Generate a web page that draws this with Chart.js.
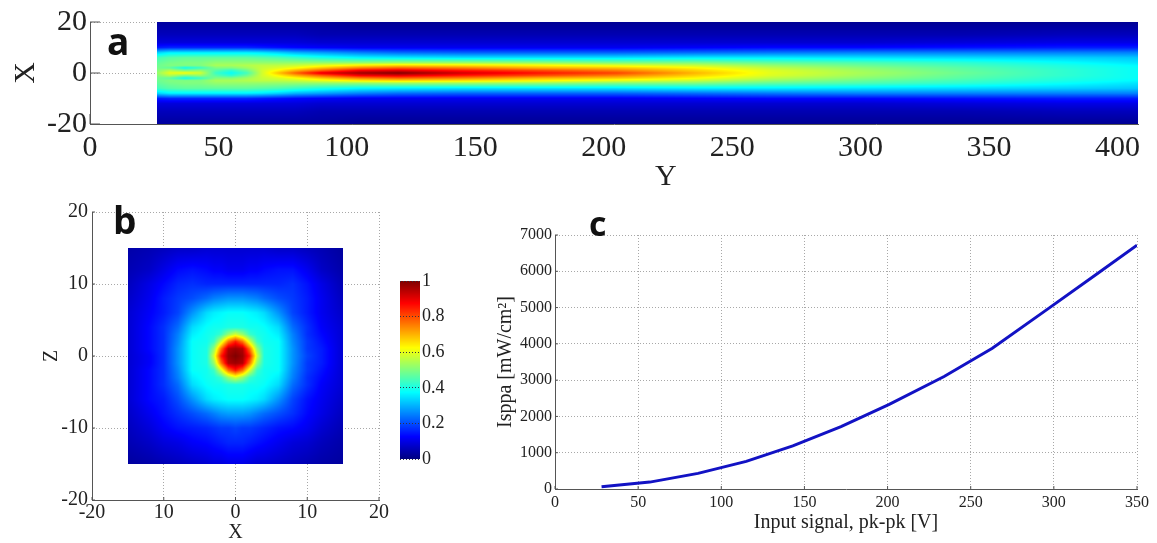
<!DOCTYPE html>
<html>
<head>
<meta charset="utf-8">
<script src="https://cdn.jsdelivr.net/npm/chart.js@4"></script>
<style>
html, body { margin: 0; background: #fff; overflow: hidden; }
canvas { position: absolute; }
.tag { position: absolute; font: 700 37px/1 'Open Sans', sans-serif; color: #111; }
.name { position: absolute; font: 30px/1 'Liberation Serif', serif; color: #222; }
</style>
</head>
<body>
<canvas id="panelA" width="1157" height="195" style="left:0px;top:0px"></canvas>
<canvas id="panelB" width="400" height="350" style="left:0px;top:195px"></canvas>
<canvas id="colorBar" width="60" height="210" style="left:395px;top:265px"></canvas>
<canvas id="panelC" width="707" height="335" style="left:450px;top:200px"></canvas>
<div class="tag" style="left:107px;top:22px">a</div>
<div class="tag" style="left:113px;top:201px">b</div>
<div class="tag" style="left:589px;top:206px;font-size:34px">c</div>
<div class="name" style="left:655px;top:160px">Y</div>
<script>
// Panel a: percent of peak, one line per Y column, top (X=20) to bottom (X=-20)
const aY = [26, 31, 37, 43, 49, 55, 61, 67, 73, 80, 90, 105, 120, 145, 175, 205, 235, 265, 300, 340, 380, 408];
const aX = [20, 15, 12, 10, 8, 6, 4, 3, 2, 1, 0, -1, -2, -3, -4, -6, -8, -10, -12, -15, -20];
const aValues = [
    [3, 6, 9, 15, 33, 44, 47, 48, 49, 50, 52, 50, 49, 48, 47, 44, 33, 15, 9, 6, 3],
    [3, 6, 9, 16, 36, 46, 49, 50, 47, 55, 60, 55, 47, 50, 49, 46, 36, 16, 9, 6, 3],
    [3, 6, 9, 16, 36, 47, 50, 50, 39, 50, 62, 50, 39, 50, 50, 47, 36, 16, 9, 6, 3],
    [3, 6, 9, 16, 36, 47, 50, 50, 43, 52, 58, 52, 43, 50, 50, 47, 36, 16, 9, 6, 3],
    [3, 6, 9, 16, 36, 47, 52, 54, 50, 46, 43, 46, 50, 54, 52, 47, 36, 16, 9, 6, 3],
    [3, 6, 9, 16, 36, 47, 52, 54, 50, 42, 38, 42, 50, 54, 52, 47, 36, 16, 9, 6, 3],
    [3, 6, 9, 16, 36, 47, 52, 55, 53, 48, 44, 48, 53, 55, 52, 47, 36, 16, 9, 6, 3],
    [3, 6, 9, 15, 35, 46, 52, 56, 57, 58, 58, 58, 57, 56, 52, 46, 35, 15, 9, 6, 3],
    [3, 6, 9, 14, 33, 45, 52, 56, 59, 63, 68, 63, 59, 56, 52, 45, 33, 14, 9, 6, 3],
    [3, 6, 9, 13, 30, 43, 52, 57, 62, 70, 78, 70, 62, 57, 52, 43, 30, 13, 9, 6, 3],
    [3, 5, 8, 12, 28, 40, 52, 60, 68, 78, 90, 78, 68, 60, 52, 40, 28, 12, 8, 5, 3],
    [2, 5, 8, 11, 25, 37, 52, 64, 75, 88, 97, 88, 75, 64, 52, 37, 25, 11, 8, 5, 2],
    [2, 5, 8, 11, 23, 36, 53, 66, 78, 90, 100, 90, 78, 66, 53, 36, 23, 11, 8, 5, 2],
    [2, 5, 8, 11, 22, 35, 53, 65, 75, 85, 92, 85, 75, 65, 53, 35, 22, 11, 8, 5, 2],
    [2, 5, 8, 11, 22, 35, 52, 63, 70, 80, 86, 80, 70, 63, 52, 35, 22, 11, 8, 5, 2],
    [2, 5, 8, 11, 22, 35, 50, 60, 68, 75, 81, 75, 68, 60, 50, 35, 22, 11, 8, 5, 2],
    [2, 5, 8, 12, 23, 36, 50, 57, 63, 67, 70, 67, 63, 57, 50, 36, 23, 12, 8, 5, 2],
    [2, 5, 8, 13, 24, 36, 47, 52, 56, 59, 60, 59, 56, 52, 47, 36, 24, 13, 8, 5, 2],
    [2, 5, 8, 13, 25, 35, 45, 48, 51, 53, 54, 53, 51, 48, 45, 35, 25, 13, 8, 5, 2],
    [2, 5, 9, 14, 25, 34, 42, 44, 46, 47, 48, 47, 46, 44, 42, 34, 25, 14, 9, 5, 2],
    [2, 6, 10, 15, 25, 33, 38, 40, 41, 42, 42, 42, 41, 40, 38, 33, 25, 15, 10, 6, 2],
    [2, 6, 10, 15, 25, 32, 35, 37, 38, 38, 38, 38, 38, 37, 35, 32, 25, 15, 10, 6, 2]
];

// Panel b: percent of peak, one line per Z row, top (Z=15) to bottom (Z=-15)
const bX = [-15, -12, -10, -8, -6, -4, -3, -2, -1, 0, 1, 2, 3, 4, 6, 8, 10, 12, 15];
const bZ = [15, 12, 10, 8, 6, 4, 3, 2, 1, 0, -1, -2, -3, -4, -6, -8, -10, -12, -15];
const bValues = [
    [4, 5, 6, 7, 7, 8, 8, 8, 8, 8, 8, 8, 8, 8, 7, 7, 6, 5, 3],
    [5, 7, 10, 13, 14, 13, 12, 12, 11, 11, 11, 12, 12, 13, 14, 14, 11, 7, 4],
    [6, 10, 13, 16, 17, 16, 16, 16, 16, 16, 16, 16, 16, 16, 16, 17, 14, 10, 5],
    [7, 11, 15, 18, 20, 23, 25, 26, 27, 27, 27, 26, 25, 23, 20, 18, 15, 11, 6],
    [8, 12, 15, 19, 27, 34, 36, 37, 38, 38, 38, 37, 36, 34, 27, 19, 15, 11, 7],
    [8, 13, 17, 23, 34, 38, 39, 39, 40, 40, 40, 39, 39, 38, 34, 23, 17, 12, 8],
    [8, 13, 17, 25, 36, 39, 40, 43, 52, 58, 52, 43, 40, 39, 36, 25, 17, 13, 8],
    [8, 13, 17, 26, 38, 39, 43, 58, 76, 85, 76, 58, 43, 39, 38, 26, 18, 14, 8],
    [8, 13, 17, 27, 38, 40, 52, 76, 95, 97, 95, 76, 52, 40, 38, 27, 18, 15, 8],
    [8, 12, 17, 27, 38, 40, 58, 85, 97, 100, 97, 85, 58, 40, 38, 27, 19, 15, 8],
    [8, 12, 17, 27, 38, 40, 52, 76, 95, 97, 95, 76, 52, 40, 38, 27, 18, 15, 8],
    [8, 13, 17, 26, 38, 39, 43, 58, 76, 85, 76, 58, 43, 39, 38, 26, 18, 14, 8],
    [8, 13, 17, 25, 36, 39, 40, 43, 52, 58, 52, 43, 40, 39, 36, 25, 17, 13, 8],
    [8, 13, 17, 23, 34, 38, 39, 39, 40, 40, 40, 39, 39, 38, 34, 23, 17, 12, 8],
    [8, 13, 15, 20, 27, 34, 36, 37, 38, 38, 38, 37, 36, 34, 27, 19, 14, 11, 7],
    [7, 11, 14, 17, 20, 23, 25, 27, 28, 28, 28, 27, 25, 23, 20, 17, 13, 10, 6],
    [6, 9, 12, 14, 15, 16, 17, 18, 18, 19, 18, 18, 17, 16, 14, 13, 11, 8, 5],
    [5, 7, 9, 10, 12, 13, 14, 15, 16, 16, 16, 15, 14, 13, 11, 9, 8, 6, 4],
    [3, 4, 5, 6, 7, 8, 9, 9, 10, 10, 10, 9, 8, 8, 7, 6, 5, 4, 3]
];
const bXLabels = ['-20', '10', '0', '10', '20'];
const bYLabels = ['-20', '-10', '0', '10', '20'];

// Color bar ramp
const barX = [0, 1];
const barY = [0, 1];
const barValues = [[0, 0], [100, 100]];
const barLabels = ['0', '0.2', '0.4', '0.6', '0.8', '1'];

// Panel c line
const signal = [28, 57, 86, 115, 143, 172, 201, 234, 263, 296, 325, 350];
const isppa = [60, 190, 430, 760, 1190, 1720, 2330, 3100, 3880, 4950, 5900, 6720];

const serif = "'Liberation Serif', serif";
const axisColor = '#555';
const inkColor = '#222';
const dotColor = '#a8a8a8';

function jet(v) {
    const clamp = c => Math.max(0, Math.min(1, c)) * 255;
    return [clamp(1.5 - Math.abs(4 * v - 3)), clamp(1.5 - Math.abs(4 * v - 2)), clamp(1.5 - Math.abs(4 * v - 1))];
}

function locate(arr, v) {
    for (let i = 0; i < arr.length - 1; i++) {
        const t = (v - arr[i]) / (arr[i + 1] - arr[i]);
        if (t >= 0 && t <= 1) return [i, t];
    }
    return null;
}

// Paints the field pixel by pixel through the scales
function fieldPlugin(xs, ys, at) {
    return {
        id: 'field',
        beforeDatasetsDraw(chart) {
            const sx = chart.scales.x, sy = chart.scales.y;
            const left = Math.round(sx.getPixelForValue(Math.min(...xs)));
            const right = Math.round(sx.getPixelForValue(Math.max(...xs)));
            const top = Math.round(sy.getPixelForValue(Math.max(...ys)));
            const bottom = Math.round(sy.getPixelForValue(Math.min(...ys)));
            const w = right - left, h = bottom - top;
            const img = chart.ctx.createImageData(w, h);
            for (let py = 0; py < h; py++) {
                const row = locate(ys, sy.getValueForPixel(top + py + 0.5));
                for (let px = 0; px < w; px++) {
                    const col = locate(xs, sx.getValueForPixel(left + px + 0.5));
                    if (!row || !col) continue;
                    const [i, t] = col, [j, u] = row;
                    const v = (at(i, j) * (1 - t) * (1 - u) + at(i + 1, j) * t * (1 - u) +
                        at(i, j + 1) * (1 - t) * u + at(i + 1, j + 1) * t * u) / 100;
                    const c = jet(v), k = (py * w + px) * 4;
                    img.data[k] = c[0];
                    img.data[k + 1] = c[1];
                    img.data[k + 2] = c[2];
                    img.data[k + 3] = 255;
                }
            }
            chart.ctx.putImageData(img, left, top);
        }
    };
}

// Short solid ticks pointing into the plot
const inwardTicks = {
    id: 'inwardTicks',
    beforeDatasetsDraw(chart) {
        const { ctx, chartArea: area, scales } = chart;
        const len = chart.options.plugins.inwardTicks.length;
        ctx.save();
        ctx.strokeStyle = axisColor;
        ctx.lineWidth = 1;
        ctx.beginPath();
        scales.y.ticks.forEach((t, i) => {
            const y = scales.y.getPixelForTick(i);
            ctx.moveTo(area.left, y);
            ctx.lineTo(area.left + len, y);
        });
        scales.x.ticks.forEach((t, i) => {
            const x = scales.x.getPixelForTick(i);
            ctx.moveTo(x, area.bottom);
            ctx.lineTo(x, area.bottom - len);
        });
        ctx.stroke();
        ctx.restore();
    }
};

function axis(opts) {
    return {
        type: 'linear',
        min: opts.min,
        max: opts.max,
        afterFit: s => {
            if (s.isHorizontal()) s.height = opts.fit; else s.width = opts.fit;
        },
        grid: { display: true, color: dotColor, drawTicks: false },
        border: { display: true, color: axisColor, width: 1, dash: [1, 2] },
        title: opts.title ? {
            display: true,
            text: opts.title,
            color: inkColor,
            font: { family: serif, size: opts.titleSize },
            padding: opts.titlePad || 0
        } : { display: false },
        ticks: {
            stepSize: opts.step,
            color: inkColor,
            padding: opts.pad,
            autoSkip: false,
            maxRotation: 0,
            includeBounds: false,
            font: { family: serif, size: opts.size },
            callback: opts.labels ? (v, i) => opts.labels[i] : v => String(v)
        }
    };
}

function base(padding, scales, ticksLen) {
    return {
        responsive: false,
        animation: false,
        layout: { padding },
        plugins: {
            legend: { display: false },
            tooltip: { enabled: false },
            inwardTicks: { length: ticksLen }
        },
        scales
    };
}

function cells(xs, ys, at) {
    const out = [];
    ys.forEach((y, j) => xs.forEach((x, i) => out.push({ x, y, v: at(i, j) })));
    return out;
}

const atA = (i, j) => aValues[i][j];
const atB = (i, j) => bValues[j][i];
const atBar = (i, j) => barValues[j][i];

new Chart(document.getElementById('panelA'), {
    type: 'scatter',
    data: { datasets: [{ data: cells(aY, aX, atA), pointRadius: 0 }] },
    plugins: [inwardTicks, fieldPlugin(aY, aX, atA)],
    options: base({ left: 0, right: 19, top: 22, bottom: 0 }, {
        x: axis({ min: 0, max: 408, step: 50, fit: 71, pad: 6, size: 30 }),
        y: axis({ min: -20, max: 20, step: 20, fit: 90, pad: 3, size: 30, title: 'X', titleSize: 30, titlePad: 8 })
    }, 10)
});

new Chart(document.getElementById('panelB'), {
    type: 'scatter',
    data: { datasets: [{ data: cells(bX, bZ, atB), pointRadius: 0 }] },
    plugins: [inwardTicks, fieldPlugin(bX, bZ, atB)],
    options: base({ left: 0, right: 21, top: 17, bottom: 0 }, {
        x: axis({ min: -20, max: 20, step: 10, fit: 45, pad: 1, size: 20, labels: bXLabels, title: 'X', titleSize: 20 }),
        y: axis({ min: -20, max: 20, step: 10, fit: 92, pad: 4, size: 20, labels: bYLabels, title: 'Z', titleSize: 20, titlePad: 40 })
    }, 3)
});

const barAxis = axis({ min: 0, max: 1, step: 0.2, fit: 35, pad: 2, size: 18, labels: barLabels });
barAxis.position = 'right';
barAxis.grid = { display: true, color: '#334', drawTicks: false, z: 1 };
barAxis.border.display = false;
new Chart(document.getElementById('colorBar'), {
    type: 'scatter',
    data: { datasets: [{ data: cells(barX, barY, atBar), pointRadius: 0 }] },
    plugins: [fieldPlugin(barX, barY, atBar)],
    options: {
        responsive: false,
        animation: false,
        layout: { padding: { left: 5, right: 0, top: 16, bottom: 16 } },
        plugins: { legend: { display: false }, tooltip: { enabled: false } },
        scales: {
            x: { type: 'linear', min: 0, max: 1, display: false },
            y: barAxis
        }
    }
});

new Chart(document.getElementById('panelC'), {
    type: 'line',
    data: {
        datasets: [{
            data: signal.map((x, i) => ({ x, y: isppa[i] })),
            borderColor: '#1212c4',
            borderWidth: 3,
            pointRadius: 0,
            tension: 0
        }]
    },
    plugins: [inwardTicks],
    options: base({ left: 0, right: 20, top: 35, bottom: 0 }, {
        x: axis({ min: 0, max: 350, step: 50, fit: 46, pad: 4, size: 16, title: 'Input signal, pk-pk [V]', titleSize: 20 }),
        y: axis({ min: 0, max: 7000, step: 1000, fit: 105, pad: 3, size: 16, title: 'Isppa [mW/cm²]', titleSize: 20, titlePad: 44 })
    }, 3)
});
</script>
</body>
</html>
